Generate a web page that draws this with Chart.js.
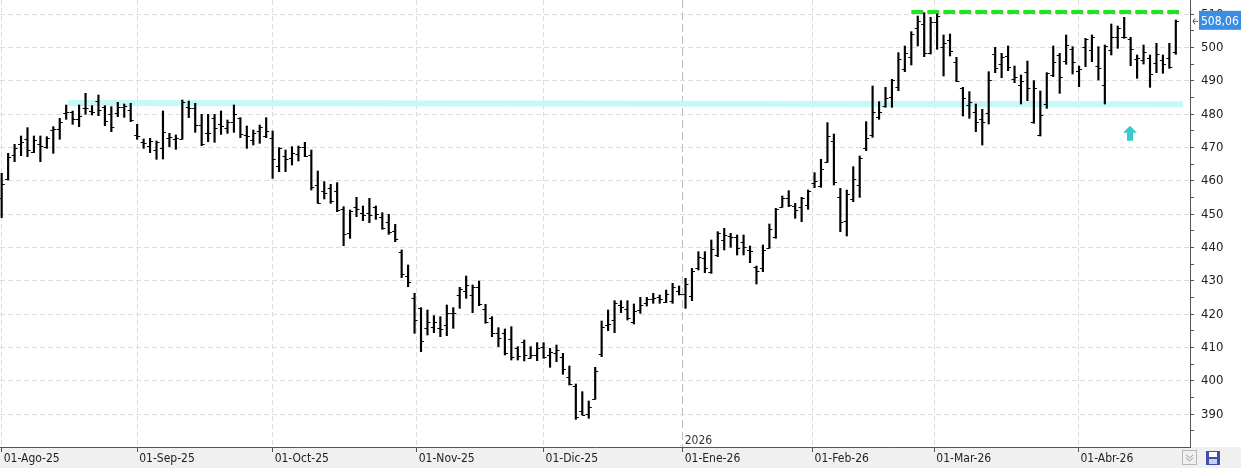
<!DOCTYPE html>
<html lang="es">
<head>
<meta charset="UTF-8" />
<title>OHLC</title>
<style>
  * { margin: 0; padding: 0; box-sizing: border-box; }
  body { width: 1241px; height: 468px; background: #fff; overflow: hidden; }
  #chart { display: block; }
</style>
</head>
<body>
<canvas id="chart" width="1241" height="468"></canvas>
<script src="https://cdn.jsdelivr.net/npm/chart.js"></script>
<script>
// barras diarias (indice de sesion 0..182)
const opens = [
  455,460.5,467.7,471,472.6,468.8,471,470.3,475.3,475.6,480.3,480.6,478.6,481.8,481,484.1,482.3,480,480.3,482.3,
  481.3,473.8,471.6,470.5,469.3,470,473,472.6,472.6,482.3,481.8,476.8,474.3,478.8,477,476,477.6,478.8,473.8,472.3,
  475,473.6,473,464.6,467.6,466.8,468,470.3,467.8,458.8,457,458,457,451.6,444.3,452.1,450.3,450.3,452.3,449.3,
  447.6,445,438.8,431.6,424.8,422,416,416.3,416,416.8,420.3,425.8,427,425.8,428.3,421.6,418.8,414.3,414.3,412.6,
  410,411.6,407,407.8,410.1,407.8,408.3,407.1,401.1,398.5,391.1,390.1,394.5,408,416.8,418.3,422.8,421.5,417.8,421.3,
  423.3,424.5,425.1,423.8,424,427,426.1,425.5,433.8,436.8,432.8,437.8,442.3,443.5,443.3,441.6,439.3,434.3,433.8,440,
  443.1,452.3,454.8,452.5,452.3,452.8,459.5,458.5,465.8,472,455.3,448,454.5,458.8,469.8,473.8,479.1,482.5,485.1,488.1,
  493.5,497.1,505.8,507.1,498.3,507.8,500.1,502.3,495.6,487.8,482.8,480.8,478.5,480.3,498.1,495.1,497.5,490.5,488.8,492.8,
  477.8,473.8,483.1,491.8,497.8,496,499.5,493.1,500.1,499.3,494.5,488.8,499.3,503.1,503.1,502.6,496.5,496.3,496.8,495.5,
  496.3,496.8,498.8
];
const highs = [
  462.3,468.3,471,473.5,476,473.5,473.5,473.3,476.3,478.8,482.8,481,482.8,486.3,482.6,485.8,482.6,482.3,483.6,483.1,
  483.3,477,472.6,472.8,472,481,474.3,473.8,484.3,484,483.3,480,480,480,481,478.3,482.8,479,476.5,475.3,
  476.8,479,475,470,469.3,470.3,470.5,471.6,469.3,463,459.8,459,459.5,452.3,451.3,455.1,452.5,454.8,452.5,450.5,
  450,447,439.3,434.8,426.3,422,421.3,419.6,419.3,422.8,422,428.1,431.5,428.8,430,423,419.3,416,415.6,416.3,
  410.3,412.3,410.3,411.5,411.5,409.8,410.8,408.3,404.5,399.1,396.8,394,404.1,418,421.3,424.1,424.1,424.1,423.1,425.1,
  425.1,426.3,425.8,427.3,429.3,428.5,430.8,433.8,438.8,438.8,442.3,444.8,445.8,444.3,443.8,443.8,440.5,434.5,440.8,447.1,
  451.8,455.5,457.1,453.3,455.1,457.3,462.5,466.5,477.5,474.1,457.8,457.3,464.3,467.5,477.8,488.5,483.8,488.1,490.5,498.5,
  500.5,504.8,509.5,510.5,509.1,510.1,503.8,504.1,497.1,488.1,486.8,483.1,481.5,492.8,500.1,498.3,500.5,494.5,491.8,496,
  490.1,487,492.5,500.5,498.3,503.8,500.3,494.5,502.8,503.8,500.3,500.8,507.1,506.5,509.1,503.1,497.8,500.8,497.8,501.3,
  497.8,501.3,508.3
];
const lows = [
  449,460.3,465.8,467.6,467.3,468.5,465.8,469.8,468.3,472.5,478.5,477,476.3,480,479.8,479.6,476.6,474.8,479.3,479.1,
  477.8,472.5,469.8,468.5,466.5,466.6,470.3,469.5,472.5,479,474.6,470.6,471.8,471.6,474,474.3,474.6,473,469.8,470.8,
  471.3,473,460.8,462.8,462.8,464.8,466,467.3,457.3,453.3,454.6,453.3,450.8,440.6,442.8,449.3,448.1,447.5,448.5,445.5,
  444,441.8,431,428.3,414.3,408.8,413.8,414.5,413.3,413.6,415.8,421.8,424.8,420.5,422.6,417.3,413.3,410.3,407.8,406.3,
  406.3,406,406.8,406.1,406.8,404.1,405.8,402,398.8,388.5,389.8,388.8,394.5,407.3,415.1,414.5,420.5,418.3,417.1,420.3,
  422.5,423.3,423.3,423.5,423.3,425.8,421.8,424.1,433.3,432.5,432.3,437.3,439.3,440.1,437.8,437.8,435.5,429.1,432.8,439.8,
  442.8,452.1,452.3,448.8,447.8,451.5,458,458.1,465.6,458.8,444.8,443.5,453.8,455.1,469.1,473.1,478.5,482.1,482.1,487.1,
  492.8,494.8,500.5,497.3,498.1,499.5,491.5,497.5,489.8,479.5,478.8,474.8,470.8,477.1,492.5,491,493.1,489.5,483.1,484.1,
  477.3,473.5,481.8,491.3,486.3,495,492.1,488.3,494.3,495.8,490.3,483.1,497.8,499.8,502.8,494.6,490.8,495.1,488.1,492.5,
  492.3,493.8,498
];
const closes = [
  459,467.3,470,471.8,469.2,472.3,470.5,473,475.6,477.6,480.6,478.6,479.6,482,480.8,481.3,478,476.3,482.3,482.6,
  478.3,473.6,471.4,472,471.8,474.6,473.1,472.8,483.6,481.8,476.8,471.1,474.5,475.8,476.5,477.6,480,474,473.6,474.3,
  476.3,475,466.6,469.8,466.6,468.5,470.1,467.6,458.3,453.5,456.3,454,451.3,444,451,451.6,449.8,449.8,450,445.8,
  444.6,442.6,432,429.8,418.3,412,417.8,417.6,415.6,420.3,420.3,427.6,428.8,428.3,423,417.6,414.3,412.8,408.3,407.3,
  407.6,407.8,407.8,409.8,407.3,408.8,409.3,403.5,399.1,389.1,389.8,392.3,403,416.3,417,423.3,422.3,418.8,421.1,422.8,
  424.5,424.8,424.5,426.1,428.3,426.1,429.1,433.1,437.1,433.8,439.5,444.3,443.8,443.1,439.8,440.1,439,433,439.3,445.6,
  451.5,454.8,452.8,451.3,454.8,457.1,460,463.5,473.6,459.6,447.6,456,460.5,467,473,480.8,480.8,484.8,490.3,496.5,
  498.3,504.1,508.1,498.5,507.8,509.5,501.5,499.1,490,484.8,483.8,477.8,477.8,490.3,493.8,497.3,494.1,491.1,490,487.8,
  487.8,479.8,492.3,495.6,491.1,500.8,495.6,493.5,502.5,503.1,494,500.6,503.1,505.8,503.3,499.5,497,498.8,492.1,498.1,
  495.1,494.3,508.06
];

// eje x: posicion (en sesiones) del primer dia de cada mes
const monthPos = [0, 21, 42, 64.33, 84, 105.56, 125.7, 144.57, 166.9];
const monthLabels = ['01-Ago-25', '01-Sep-25', '01-Oct-25', '01-Nov-25', '01-Dic-25', '01-Ene-26', '01-Feb-26', '01-Mar-26', '01-Abr-26'];
const yearMark = 5; // indice del cambio de año
const yearLabel = '2026';

// eje y
const yTicks = [380, 385, 390, 395, 400, 405, 410, 415, 420, 425, 430, 435, 440, 445, 450, 455, 460, 465, 470, 475, 480, 485, 490, 495, 500, 505, 510];

// lineas dibujadas sobre el grafico
const supportLine = [{ x: 10.3, y: 483.4 }, { x: 183.1, y: 483.0 }];
const resistLine = [{ x: 141, y: 510.7 }, { x: 182.5, y: 510.7 }];
const arrowMark = { x: 174.9, top: 476.6, bottom: 472.1 };

const FONT = "'Liberation Sans Narrow', 'DejaVu Sans Condensed', sans-serif";

const ohlcTicks = {
  id: 'ohlcTicks',
  beforeDraw(chart) {
    const { ctx, chartArea } = chart;
    ctx.save();
    ctx.fillStyle = '#f0f0f0';
    ctx.fillRect(0, chartArea.bottom, chart.width, chart.height - chartArea.bottom);
    ctx.restore();
  },
  afterDatasetsDraw(chart) {
    const { ctx } = chart;
    const meta = chart.getDatasetMeta(2);
    const y = chart.scales.y;
    ctx.save();
    ctx.strokeStyle = '#000';
    ctx.lineWidth = 1;
    ctx.beginPath();
    meta.data.forEach((bar, i) => {
      const yo = Math.round(y.getPixelForValue(opens[i])) + 0.5;
      const yc = Math.round(y.getPixelForValue(closes[i])) + 0.5;
      ctx.moveTo(bar.x - 3, yo);
      ctx.lineTo(bar.x, yo);
      ctx.moveTo(bar.x, yc);
      ctx.lineTo(bar.x + 3, yc);
    });
    ctx.stroke();

    // flecha
    const x = chart.scales.x;
    const ax = x.getPixelForValue(arrowMark.x);
    const at = y.getPixelForValue(arrowMark.top);
    const ab = y.getPixelForValue(arrowMark.bottom);
    ctx.fillStyle = '#33cccc';
    ctx.beginPath();
    ctx.moveTo(ax, at);
    ctx.lineTo(ax + 7, at + 7);
    ctx.lineTo(ax + 3, at + 7);
    ctx.lineTo(ax + 3, ab);
    ctx.lineTo(ax - 3, ab);
    ctx.lineTo(ax - 3, at + 7);
    ctx.lineTo(ax - 7, at + 7);
    ctx.closePath();
    ctx.fill();
    ctx.restore();
  },
  afterDraw(chart) {
    const { ctx, chartArea } = chart;
    const x = chart.scales.x;
    const y = chart.scales.y;
    ctx.save();
    // año
    ctx.font = '12px ' + FONT;
    ctx.fillStyle = '#333';
    ctx.textBaseline = 'alphabetic';
    ctx.fillText(yearLabel, x.getPixelForValue(monthPos[yearMark]) + 2, chartArea.bottom - 3);

    // ultimo precio
    const last = closes[closes.length - 1];
    const py = y.getPixelForValue(last);
    ctx.fillStyle = '#3b8de2';
    ctx.fillRect(chartArea.right + 9, py - 10, chart.width - chartArea.right - 9, 19);
    ctx.fillStyle = '#fff';
    ctx.font = '12px ' + FONT;
    ctx.textBaseline = 'middle';
    ctx.fillText(last.toFixed(2).replace('.', ','), chartArea.right + 11, py + 1);
    ctx.strokeStyle = '#555';
    ctx.lineWidth = 1;
    ctx.beginPath();
    ctx.moveTo(chartArea.right + 3, py + 0.5);
    ctx.lineTo(chartArea.right + 8, py + 0.5);
    ctx.moveTo(chartArea.right + 5, py - 2.5);
    ctx.lineTo(chartArea.right + 3, py + 0.5);
    ctx.lineTo(chartArea.right + 5, py + 3.5);
    ctx.stroke();

    // iconos de la esquina
    const by = chartArea.bottom + 3;
    ctx.strokeStyle = '#b8b8b8';
    ctx.strokeRect(1182.5, by + 0.5, 14, 14);
    ctx.strokeStyle = '#9a9a9a';
    ctx.beginPath();
    ctx.moveTo(1186, by + 5); ctx.lineTo(1189.5, by + 8); ctx.lineTo(1193, by + 5);
    ctx.moveTo(1186, by + 8); ctx.lineTo(1189.5, by + 11); ctx.lineTo(1193, by + 8);
    ctx.stroke();
    ctx.fillStyle = '#3f4fa8';
    ctx.fillRect(1206, by + 1, 14, 14);
    ctx.fillStyle = '#ffffff';
    ctx.fillRect(1209, by + 2, 8, 5);
    ctx.fillStyle = '#c9d0ee';
    ctx.fillRect(1209, by + 9, 8, 5);
    ctx.restore();
  }
};

new Chart(document.getElementById('chart'), {
  type: 'bar',
  data: {
    datasets: [
      {
        type: 'line',
        data: supportLine,
        borderColor: '#c6f8f8',
        borderWidth: 6,
        pointRadius: 0,
        order: 3
      },
      {
        type: 'line',
        data: resistLine,
        borderColor: '#1ee61e',
        borderWidth: 4,
        borderDash: [12, 4],
        pointRadius: 0,
        order: 2
      },
      {
        data: highs.map((h, i) => ({ x: i, y: [lows[i], h] })),
        backgroundColor: '#000',
        barThickness: 1.5,
        grouped: false,
        order: 1
      }
    ]
  },
  options: {
    responsive: false,
    animation: false,
    devicePixelRatio: 1,
    layout: { padding: 0 },
    plugins: { legend: { display: false }, tooltip: { enabled: false } },
    scales: {
      x: {
        type: 'linear',
        min: -0.26,
        max: 184.2,
        offset: false,
        afterBuildTicks: (scale) => { scale.ticks = monthPos.map(v => ({ value: v })); },
        afterFit: (scale) => {
          scale.height = 21;
          scale.paddingLeft = 0;
          scale.paddingRight = 0;
        },
        ticks: {
          callback: (v, i) => monthLabels[i],
          align: 'start',
          labelOffset: 2,
          padding: 0,
          maxRotation: 0,
          autoSkip: false,
          color: '#222',
          font: { family: FONT, size: 12 }
        },
        grid: {
          offset: false,
          color: (c) => c.index === yearMark ? '#bdbdbd' : '#dddddd',
          tickColor: '#555',
          tickLength: 5
        },
        border: {
          color: '#555',
          dash: (c) => c.index === yearMark ? [8, 4] : [5, 3]
        }
      },
      y: {
        position: 'right',
        min: 380.2,
        max: 514.3,
        afterBuildTicks: (scale) => { scale.ticks = yTicks.filter(v => v >= scale.min).map(v => ({ value: v })); },
        afterFit: (scale) => {
          scale.width = 51;
          scale.paddingTop = 0;
          scale.paddingBottom = 0;
        },
        ticks: {
          callback: (v) => v % 10 === 0 ? String(v) : '',
          autoSkip: false,
          padding: 7,
          color: '#222',
          font: { family: FONT, size: 13 }
        },
        grid: {
          color: (c) => c.tick && c.tick.value % 10 === 0 ? '#dddddd' : 'rgba(0,0,0,0)',
          tickColor: '#555',
          tickLength: 4
        },
        border: { color: '#555', dash: [5, 3] }
      }
    }
  },
  plugins: [ohlcTicks]
});
</script>
</body>
</html>
